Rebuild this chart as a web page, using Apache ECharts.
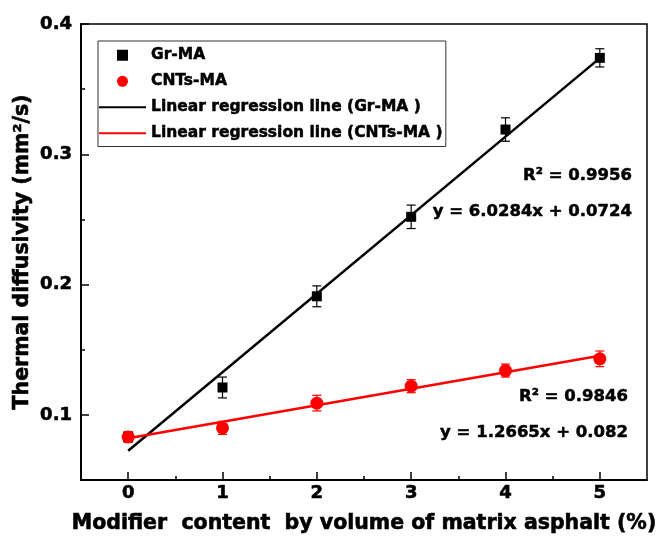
<!DOCTYPE html>
<html>
<head>
<meta charset="utf-8">
<script src="https://cdn.jsdelivr.net/npm/echarts@6/dist/echarts.min.js"></script>
<style>
  html, body { margin: 0; padding: 0; background: #fff; }
  #chart { width: 659px; height: 536px; }
</style>
</head>
<body>
<div id="chart"></div>
<script>
// Modifier content (% by volume of matrix asphalt)
const contents = [0, 1, 2, 3, 4, 5];

// Thermal diffusivity (mm²/s) and error half-widths
const grValues = [0.083, 0.121, 0.191, 0.252, 0.319, 0.374];
const grErrors = [0.004, 0.008, 0.008, 0.009, 0.009, 0.007];
const cntValues = [0.083, 0.090, 0.109, 0.122, 0.134, 0.143];
const cntErrors = [0.004, 0.005, 0.006, 0.005, 0.005, 0.006];

// Linear fits (x as volume fraction): [slope, intercept]
const grFit = [6.0284, 0.0724];
const cntFit = [1.2665, 0.082];
const fitRange = [0, 5];

const xMajorTicks = [0, 1, 2, 3, 4, 5];
const xMinorTicks = [0.5, 1.5, 2.5, 3.5, 4.5];
const yMajorTicks = [0.1, 0.2, 0.3, 0.4];
const yMinorTicks = [0.15, 0.25, 0.35];

const FONT = 'DejaVu Sans';

function fitLine(fit) {
  return fitRange.map(x => [x, fit[1] + fit[0] * x / 100]);
}

function errorBarSeries(values, errors, color, name) {
  return {
    type: 'custom',
    name: name,
    z: 3,
    silent: true,
    data: contents.map((x, i) => [x, values[i], errors[i]]),
    renderItem: function (params, api) {
      const x = api.value(0), y = api.value(1), e = api.value(2);
      const top = api.coord([x, y + e]);
      const bot = api.coord([x, y - e]);
      const cap = 4.5;
      const style = { stroke: color, lineWidth: 1.2 };
      return {
        type: 'group',
        children: [
          { type: 'line', shape: { x1: top[0], y1: top[1], x2: bot[0], y2: bot[1] }, style },
          { type: 'line', shape: { x1: top[0] - cap, y1: top[1], x2: top[0] + cap, y2: top[1] }, style },
          { type: 'line', shape: { x1: bot[0] - cap, y1: bot[1], x2: bot[0] + cap, y2: bot[1] }, style }
        ]
      };
    }
  };
}

// heavy bold lettering: bold face plus a thin same-colour outline
const heavy = { fontFamily: FONT, fontWeight: 'bold', color: '#000', textBorderColor: '#000', textBorderWidth: 0.6 };
const axisText = { ...heavy, fontSize: 18 };
const nameText = { ...heavy, fontSize: 20.5 };

const chart = echarts.init(document.getElementById('chart'), null, { renderer: 'canvas' });

const lineIcon = 'path://M0,0H47V2H0Z';
const squareIcon = 'path://M0,0H10V10H0Z';

function note(text, x, y) {
  return {
    type: 'text', x: x, y: y, z: 10,
    style: {
      text: text, align: 'right', verticalAlign: 'middle',
      fontFamily: FONT, fontWeight: 'bold', fontSize: 16.5,
      fill: '#000', stroke: '#000', lineWidth: 0.5
    }
  };
}

chart.setOption({
  animation: false,
  backgroundColor: '#fff',
  grid: {
    left: 81, right: 12, top: 24, bottom: 56,
    show: true, borderColor: '#000', borderWidth: 1.5,
    containLabel: false,
    outerBoundsMode: 'none'
  },
  xAxis: [{
    type: 'value',
    min: -0.5, max: 5.5,
    name: 'Modifier  content  by volume of matrix asphalt (%)',
    nameLocation: 'middle',
    nameGap: 33,
    nameMoveOverlap: false,
    nameTextStyle: nameText,
    axisLine: { show: true, onZero: false, lineStyle: { color: '#000', width: 2 } },
    axisTick: { show: true, inside: true, length: 8, customValues: xMajorTicks, lineStyle: { color: '#000', width: 1.5 } },
    axisLabel: { show: true, margin: 4, customValues: xMajorTicks, formatter: v => String(v), ...axisText },
    splitLine: { show: false }
  }, {
    type: 'value',
    min: -0.5, max: 5.5,
    position: 'bottom',
    axisLine: { show: false, onZero: false },
    axisTick: { show: true, inside: true, length: 4, customValues: xMinorTicks, lineStyle: { color: '#000', width: 1.5 } },
    axisLabel: { show: false },
    splitLine: { show: false }
  }],
  yAxis: [{
    type: 'value',
    min: 0.05, max: 0.4,
    name: 'Thermal diffusivity (mm²/s)',
    nameLocation: 'middle',
    nameGap: 48,
    nameMoveOverlap: false,
    nameTextStyle: nameText,
    axisLine: { show: true, onZero: false, lineStyle: { color: '#000', width: 2 } },
    axisTick: { show: true, inside: true, length: 8, customValues: yMajorTicks, lineStyle: { color: '#000', width: 1.5 } },
    axisLabel: { show: true, margin: 9, customValues: yMajorTicks, formatter: v => v.toFixed(1), ...axisText },
    splitLine: { show: false }
  }, {
    type: 'value',
    min: 0.05, max: 0.4,
    position: 'left',
    axisLine: { show: false, onZero: false },
    axisTick: { show: true, inside: true, length: 4, customValues: yMinorTicks, lineStyle: { color: '#000', width: 1.5 } },
    axisLabel: { show: false },
    splitLine: { show: false }
  }],
  legend: {
    orient: 'vertical',
    left: 98, top: 41,
    padding: [6, 3, 5, 1],
    itemWidth: 47, itemHeight: 11, itemGap: 9.5,
    borderColor: '#333', borderWidth: 1,
    symbolKeepAspect: true,
    textStyle: { ...heavy, fontSize: 15.5, textBorderWidth: 0.5 },
    data: [
      { name: 'Gr-MA', icon: squareIcon },
      { name: 'CNTs-MA', icon: 'circle' },
      { name: 'Linear regression line (Gr-MA )', icon: lineIcon },
      { name: 'Linear regression line (CNTs-MA )', icon: lineIcon }
    ]
  },
  series: [
    {
      name: 'Linear regression line (Gr-MA )',
      type: 'line',
      data: fitLine(grFit),
      symbol: 'none',
      z: 2,
      lineStyle: { color: '#000', width: 2.5 },
      itemStyle: { color: '#000' }
    },
    {
      name: 'Linear regression line (CNTs-MA )',
      type: 'line',
      data: fitLine(cntFit),
      symbol: 'none',
      z: 2,
      lineStyle: { color: '#ff0000', width: 2.5 },
      itemStyle: { color: '#ff0000' }
    },
    errorBarSeries(grValues, grErrors, '#000', 'grErr'),
    {
      name: 'Gr-MA',
      type: 'scatter',
      data: contents.map((x, i) => [x, grValues[i]]),
      symbol: 'rect',
      symbolSize: 10,
      z: 4,
      itemStyle: { color: '#000', opacity: 1 }
    },
    errorBarSeries(cntValues, cntErrors, '#ff0000', 'cntErr'),
    {
      name: 'CNTs-MA',
      type: 'scatter',
      data: contents.map((x, i) => [x, cntValues[i]]),
      symbol: 'circle',
      symbolSize: 13,
      z: 5,
      itemStyle: { color: '#ff0000', opacity: 1 }
    }
  ],
  graphic: [
    note('R² = 0.9956', 632, 176),
    note('y = 6.0284x + 0.0724', 632, 212),
    note('R² = 0.9846', 628, 397),
    note('y = 1.2665x + 0.082', 628, 433)
  ]
});
</script>
</body>
</html>
